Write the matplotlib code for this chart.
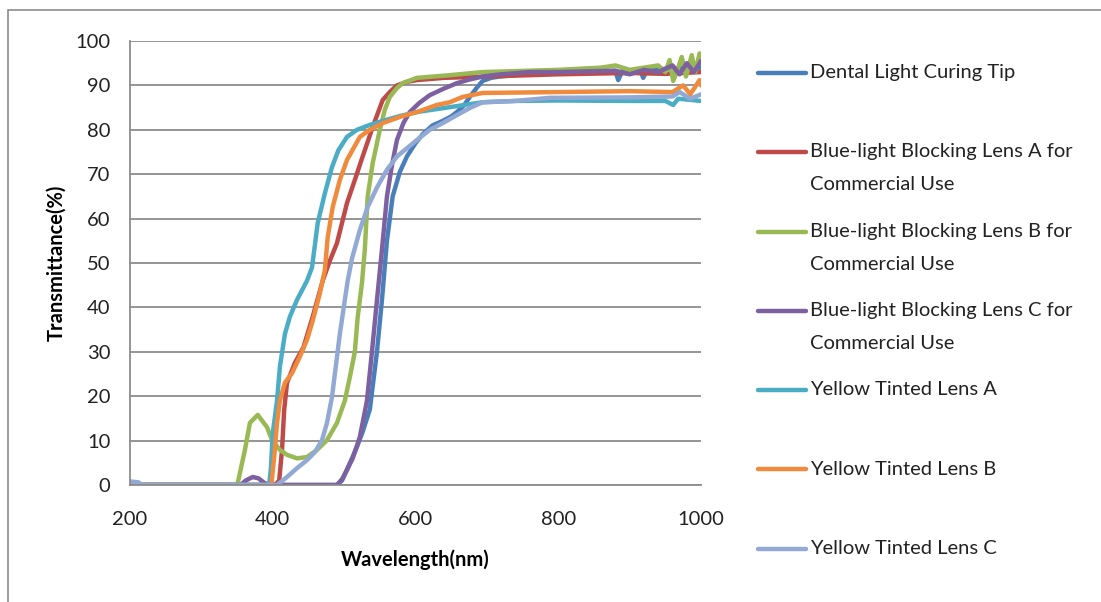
import numpy as np
import matplotlib
matplotlib.use('Agg')
import matplotlib.pyplot as plt
from matplotlib.patches import Rectangle
from matplotlib.legend_handler import HandlerLine2D

# transmittance spectra (wavelength nm, %)
dental_x = [200, 490, 497, 504, 511, 518, 526, 536, 546, 553, 560, 568, 578, 588, 600, 610, 624, 638,
            650, 658, 668, 676, 686, 694, 706, 718, 750, 800, 850, 880, 884, 890, 915, 919, 925, 960, 1000]
dental_y = [0, 0, 1.0, 3.5, 6.0, 8.6, 12, 17, 30, 41.7, 55, 65, 70.5, 74, 77, 79, 81, 82,
            83, 84, 85.5, 87.4, 89.5, 91, 91.7, 92, 92.5, 93, 93, 93.3, 91.2, 93.3, 93.5, 91.7, 93.5, 93.8, 94]

lensA_x = [200, 400, 405, 409, 413, 416, 420, 431, 443, 456, 470, 480, 490, 504, 515, 526, 540, 554,
           564, 574, 588, 602, 640, 700, 800, 900, 950, 1000]
lensA_y = [0, 0, 0.3, 1.0, 7.9, 16.9, 23, 27.5, 31, 37.9, 46, 50.5, 54.5, 63.5, 68.7, 74, 80.6, 86.7,
           88.5, 90, 90.8, 91.2, 91.7, 92, 92.5, 92.8, 92.6, 93]

lensB_x = [200, 348, 351, 361, 368, 379, 392, 399, 410, 420, 434, 448, 462, 476, 490, 501, 508, 515,
           519, 525, 529, 533, 540, 550, 557, 564, 574, 582, 602, 648, 694, 800, 860, 880, 900, 920,
           940, 950, 956, 961, 966, 973, 979, 987, 992, 998, 1000]
lensB_y = [0, 0, 0.5, 7.9, 14, 15.8, 13, 10.1, 7.9, 6.8, 6, 6.3, 7.9, 10.1, 14, 19, 24.3, 30,
           37.8, 45.5, 53, 65, 72.5, 80, 84.5, 87.4, 89.4, 90.5, 91.7, 92.3, 93, 93.5, 94, 94.5, 93.5, 94,
           94.5, 93, 95.7, 91, 93, 96.4, 92, 96.8, 93, 97.2, 95]

lensC_x = [200, 355, 362, 372, 380, 388, 395, 490, 498, 504, 512, 522, 532, 539, 546, 553, 560, 567,
           574, 583, 592, 605, 620, 640, 658, 675, 694, 720, 760, 800, 850, 880, 900, 920, 940, 960,
           970, 980, 990, 1000]
lensC_y = [0, 0, 1.0, 1.8, 1.5, 0.5, 0, 0, 1.5, 3.4, 6, 10.8, 19, 30, 41.6, 53, 65, 72,
           77.7, 81.5, 84, 86, 87.8, 89.3, 90.5, 91.3, 92, 92.5, 93, 93, 93.2, 93.3, 92.5, 93.5, 93, 94.5,
           92.5, 95, 93, 95.5]

yellowA_x = [200, 395, 397.5, 400, 406, 410, 417, 424, 434, 448, 455, 463, 473, 483, 492, 504, 518,
             536, 554, 578, 602, 648, 694, 740, 800, 900, 950, 961, 968, 1000]
yellowA_y = [0, 0, 4, 11.7, 19, 26.6, 34, 37.9, 41.7, 46, 49, 59, 65.7, 71.6, 75.4, 78.4, 80,
             81.1, 82, 83.1, 84, 85.1, 86.2, 86.5, 86.6, 86.5, 86.5, 85.6, 87, 86.5]

yellowB_x = [200, 398, 402, 406, 410, 417, 427, 438, 448, 456, 466, 473, 477, 484, 494, 504, 522, 536,
             554, 578, 602, 630, 648, 666, 694, 800, 900, 960, 975, 985, 998, 1000]
yellowB_y = [0, 0, 6.3, 14, 19, 23, 25.2, 28.9, 32.7, 37, 43.2, 48.4, 55.8, 62.6, 68.7, 73.2, 78.4, 80,
             81.5, 82.9, 84, 85.6, 86.2, 87.4, 88.3, 88.5, 88.7, 88.5, 90, 88, 91.2, 90]

yellowC_x = [200, 212, 216, 406, 420, 434, 448, 459, 469, 476, 483, 487, 494, 501, 505, 511, 522, 533,
             546, 560, 574, 602, 620, 638, 658, 676, 694, 740, 788, 900, 960, 970, 985, 1000]
yellowC_y = [0.8, 0.6, 0, 0, 1.8, 3.8, 5.6, 7.4, 10.1, 14, 19.8, 25, 34, 41.7, 46, 51, 57.4, 62.6,
             67, 71, 74, 77.7, 80, 81.5, 83.3, 84.9, 86.2, 86.5, 87.2, 87.3, 87.5, 88.5, 87, 88]

labels = ['Dental Light Curing Tip',
          'Blue-light Blocking Lens A for\nCommercial Use',
          'Blue-light Blocking Lens B for\nCommercial Use',
          'Blue-light Blocking Lens C for\nCommercial Use',
          'Yellow Tinted Lens A',
          'Yellow Tinted Lens B',
          'Yellow Tinted Lens C']
colors = ['#4A7EBB', '#BE4B48', '#98B954', '#7D60A0', '#4BACC6', '#F08A3C', '#92A9D4']
series = [(dental_x, dental_y), (lensA_x, lensA_y), (lensB_x, lensB_y), (lensC_x, lensC_y),
          (yellowA_x, yellowA_y), (yellowB_x, yellowB_y), (yellowC_x, yellowC_y)]

plt.rcParams['font.family'] = ['Lato', 'DejaVu Sans']
fs = 14.5
LSP = 2.15


class FirstLine(HandlerLine2D):
    # put the legend line next to the first text row, as Excel does
    def create_artists(self, legend, orig_handle, xdescent, ydescent, width, height, fontsize, trans):
        arts = super().create_artists(legend, orig_handle, xdescent, ydescent,
                                      width, height, fontsize, trans)
        for a in arts:
            a.set_ydata(np.asarray(a.get_ydata()) + 0.5 * LSP * 0.74 * fontsize)
        return arts


fig = plt.figure(figsize=(11.01, 6.02), dpi=100)
ax = fig.add_axes([130 / 1101, 1 - 485 / 602, 571 / 1101, 444 / 602])

lines = []
for (x, y), c in zip(series, colors):
    ln, = ax.plot(x, y, color=c, lw=3.2, solid_capstyle='round', solid_joinstyle='round')
    lines.append(ln)

ax.set_xlim(200, 1000)
ax.set_ylim(0, 100)
ax.set_xticks([200, 400, 600, 800, 1000])
ax.set_yticks(range(0, 101, 10))
ax.tick_params(length=0, labelsize=fs, colors='#222222')
ax.tick_params(axis='y', pad=14)
ax.tick_params(axis='x', pad=19)
ax.grid(axis='y', color='#8C8C8C', lw=1.3)
ax.set_axisbelow(True)
for s in ['top', 'right']:
    ax.spines[s].set_visible(False)
for s in ['left', 'bottom']:
    ax.spines[s].set_color('#8C8C8C')
    ax.spines[s].set_linewidth(1.3)

ax.set_xlabel('Wavelength(nm)', fontsize=fs, fontweight='bold')
ax.set_ylabel('Transmittance(%)', fontsize=fs, fontweight='bold')
ax.xaxis.set_label_coords(0.5, -0.146)
ax.yaxis.set_label_coords(-0.112, 0.5)

leg_labels = [l if '\n' in l else l + '\n ' for l in labels]
leg = fig.legend(lines, leg_labels, loc='upper left',
                 bbox_to_anchor=(758 / 1101, 1 - 64 / 602),
                 frameon=False, fontsize=fs, handlelength=2.4, handletextpad=0.2,
                 borderpad=0, borderaxespad=0, labelspacing=1.45,
                 handler_map={matplotlib.lines.Line2D: FirstLine()})
for t in leg.get_texts():
    t.set_linespacing(LSP)
    t.set_color('#222222')
for h in leg.get_lines():
    h.set_linewidth(3.2)

fig.add_artist(Rectangle((8 / 1101, -0.05), 1.2, 1.05 - 10 / 602, transform=fig.transFigure,
                         fill=False, edgecolor='#8C8C8C', lw=1.2))

fig.savefig('out.png', dpi=100)
